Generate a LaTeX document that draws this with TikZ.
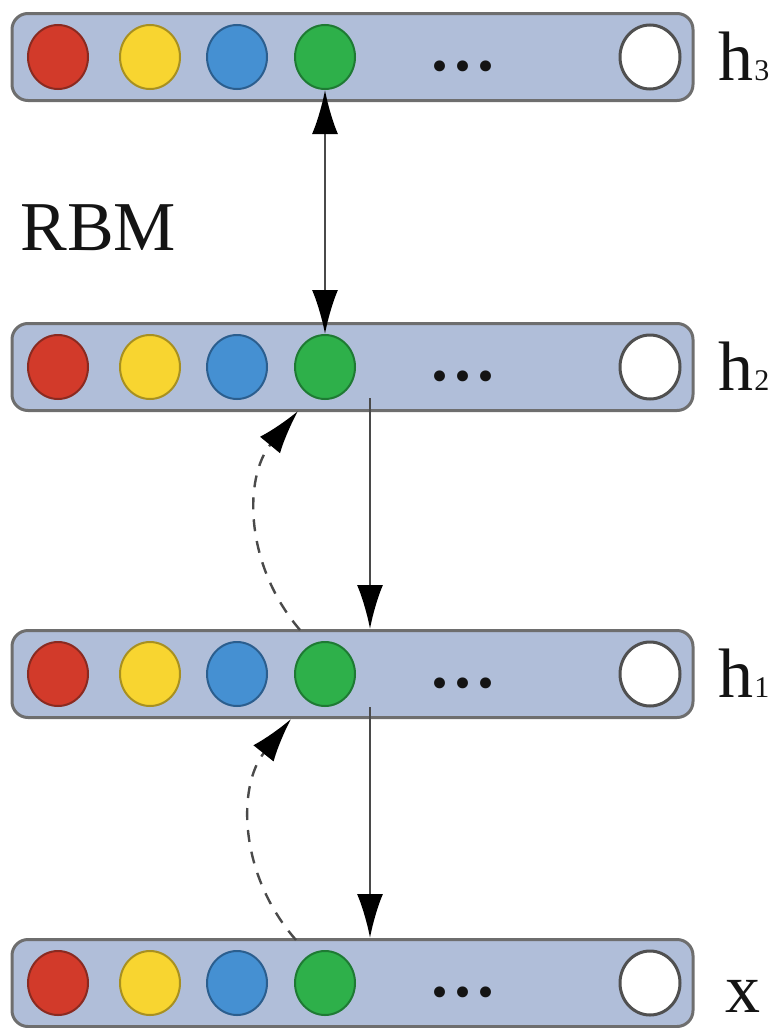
\documentclass[tikz,border=0pt]{standalone}
\usepackage{fontspec}
\setmainfont{Liberation Serif}
\usetikzlibrary{shapes.geometric,arrows.meta}

\definecolor{barfill}{HTML}{B0BED9}
\definecolor{barline}{HTML}{6E6E6E}
\definecolor{nred}{HTML}{D23A2A}
\definecolor{nredd}{HTML}{8A2A20}
\definecolor{nyellow}{HTML}{F8D530}
\definecolor{nyellowd}{HTML}{A89020}
\definecolor{nblue}{HTML}{4590D2}
\definecolor{nblued}{HTML}{2B5E8E}
\definecolor{ngreen}{HTML}{2EB04A}
\definecolor{ngreend}{HTML}{1E7A33}
\definecolor{nwhited}{HTML}{505050}
\definecolor{ink}{HTML}{141414}
\definecolor{wire}{HTML}{4A4A4A}

\tikzset{
  layerbar/.style={draw=barline, fill=barfill, line width=1.5pt, rounded corners=8pt,
    rectangle, minimum width=340.5pt, minimum height=43.5pt, inner sep=0pt},
  unit/.style={ellipse, line width=1pt, minimum width=30pt, minimum height=32pt, inner sep=0pt},
  redunit/.style={unit, fill=nred, draw=nredd},
  yellowunit/.style={unit, fill=nyellow, draw=nyellowd},
  blueunit/.style={unit, fill=nblue, draw=nblued},
  greenunit/.style={unit, fill=ngreen, draw=ngreend},
  whiteunit/.style={unit, fill=white, draw=nwhited, line width=1.5pt},
  dotsnode/.style={anchor=base, inner sep=0pt, text=ink, font=\fontsize{46}{46}\selectfont},
  layerlabel/.style={anchor=base west, inner sep=0pt, text=ink, font=\fontsize{35}{35}\selectfont},
  bighead/.tip={Latex[length=22pt,width=13pt,color=black]},
  upward/.style={draw=wire, line width=1.3pt, -bighead},
  twoway/.style={draw=wire, line width=1.3pt, bighead-bighead},
  recog/.style={draw=wire, line width=1.2pt, dash pattern=on 6pt off 5pt, -bighead},
}

\begin{document}
\begin{tikzpicture}[x=0.5pt, y=-0.5pt]
  \useasboundingbox (0,0) rectangle (776,1028);

  % the four layers with their units
  \foreach \n/\y in {h3/57, h2/367, h1/674, x/983} {
    \node[layerbar] (bar-\n) at (352.5,\y) {};
    \foreach \k/\xx/\st in {1/58/redunit, 2/150/yellowunit, 3/237/blueunit, 4/325/greenunit, 5/650/whiteunit} {
      \node[\st] (u-\n-\k) at (\xx,\y) {};
    }
    \node[dotsnode] (dots-\n) at (463,\y+13) {...};
  }

  % layer names
  \node[layerlabel] (lab-h3) at (718,80) {h\hspace{0.5pt}{\fontsize{15}{15}\selectfont 3}};
  \node[layerlabel] (lab-h2) at (718,390) {h\hspace{0.5pt}{\fontsize{15}{15}\selectfont 2}};
  \node[layerlabel] (lab-h1) at (718,697) {h\hspace{0.5pt}{\fontsize{15}{15}\selectfont 1}};
  \node[layerlabel] (lab-x) at (725,1012) {x};
  \node[layerlabel] (rbm) at (20,250) {RBM};

  % undirected RBM between the top two layers
  \draw[twoway] (u-h3-4.south) -- (u-h2-4.north);

  % generative (top-down) connections
  \coordinate (gen21) at (370,398);
  \coordinate (gen10) at (370,707);
  \draw[upward] (gen21) -- (bar-h1.north -| gen21);
  \draw[upward] (gen10) -- (bar-x.north -| gen10);

  % recognition (bottom-up) connections
  \coordinate (rec12a) at (300,630);
  \coordinate (rec12b) at (298,411);
  \coordinate (rec01a) at (296,940);
  \coordinate (rec01b) at (291,719);
  \draw[recog] (rec12a) to[bend left=40] (rec12b);
  \draw[recog] (rec01a) to[bend left=40] (rec01b);
\end{tikzpicture}
\end{document}
